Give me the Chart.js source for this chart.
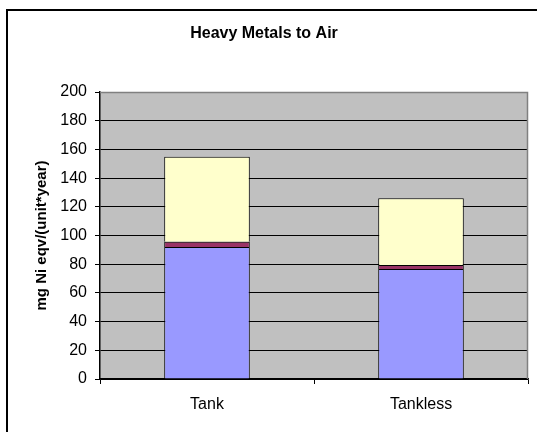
<!DOCTYPE html>
<html>
<head>
<meta charset="utf-8">
<script src="https://cdn.jsdelivr.net/npm/chart.js@4/dist/chart.umd.min.js"></script>
<style>
  html, body { margin: 0; padding: 0; background: #ffffff; }
  #wrap { position: relative; width: 537px; height: 432px; overflow: hidden; }
  #frame { position: absolute; left: 6px; top: 9px; width: 560px; height: 460px; border: 2px solid #000; box-sizing: border-box; }
  #c { position: absolute; left: 0; top: 0; }
</style>
</head>
<body>
<div id="wrap">
  <div id="frame"></div>
  <canvas id="c" width="537" height="432"></canvas>
</div>
<script>
const categories = ['Tank', 'Tankless'];
const seriesBlue = [92, 76.7];
const seriesPurple = [3.6, 2.7];
const seriesYellow = [59.3, 46.5];
const yTicks = [0, 20, 40, 60, 80, 100, 120, 140, 160, 180, 200];
const chartTitle = 'Heavy Metals to Air';
const yTitle = 'mg Ni eqv/(unit*year)';

const FONT = "'Liberation Sans', Arial, sans-serif";

const plotBg = {
  id: 'plotBg',
  beforeDraw(chart) {
    const a = chart.chartArea, ctx = chart.ctx;
    ctx.save();
    ctx.fillStyle = '#C0C0C0';
    ctx.fillRect(a.left, a.top, a.right - a.left, a.bottom - a.top);
    ctx.restore();
  },
  afterDraw(chart) {
    const a = chart.chartArea, ctx = chart.ctx;
    ctx.save();
    ctx.strokeStyle = '#808080';
    ctx.lineWidth = 1.5;
    ctx.beginPath();
    ctx.moveTo(a.left, a.top + 0.5);
    ctx.lineTo(a.right - 0.5, a.top + 0.5);
    ctx.lineTo(a.right - 0.5, a.bottom);
    ctx.stroke();
    ctx.restore();
  }
};

new Chart(document.getElementById('c'), {
  type: 'bar',
  data: {
    labels: categories,
    datasets: [
      { label: 'Series 1', data: seriesBlue, backgroundColor: '#9999FF', borderColor: '#000', borderWidth: 1 },
      { label: 'Series 2', data: seriesPurple, backgroundColor: '#993366', borderColor: '#000', borderWidth: 1 },
      { label: 'Series 3', data: seriesYellow, backgroundColor: '#FFFFCC', borderColor: '#000', borderWidth: 1 }
    ]
  },
  options: {
    responsive: false,
    animation: false,
    devicePixelRatio: 1,
    layout: { padding: { left: 0, right: 9, top: 0, bottom: 0 } },
    datasets: { bar: { barPercentage: 0.4, categoryPercentage: 1.0 } },
    plugins: {
      legend: { display: false },
      tooltip: { enabled: false },
      title: {
        display: true,
        text: chartTitle,
        color: '#000',
        font: { family: FONT, size: 16, weight: 'bold' },
        padding: { top: 24.4, bottom: 48.4 }
      }
    },
    scales: {
      x: {
        stacked: true,
        afterFit(s) { s.height = 53; },
        grid: { display: true, drawOnChartArea: false, drawTicks: true, tickLength: 5, color: '#000', offset: true },
        border: { display: true, color: '#000', width: 1.5 },
        ticks: { color: '#000', font: { family: FONT, size: 16 }, padding: 11 }
      },
      y: {
        stacked: true,
        min: 0,
        max: 200,
        afterFit(s) { s.width = 100; },
        afterBuildTicks(s) { s.ticks = yTicks.map(v => ({ value: v })); },
        grid: { color: '#000', lineWidth: 1, drawTicks: true, tickLength: 5 },
        border: { display: true, color: '#000', width: 1.5 },
        ticks: { color: '#000', font: { family: FONT, size: 16 }, padding: 8 },
        title: {
          display: true,
          text: yTitle,
          color: '#000',
          font: { family: FONT, size: 15, weight: 'bold' },
          padding: { top: 32.5, bottom: 0 }
        }
      }
    }
  },
  plugins: [plotBg]
});
</script>
</body>
</html>
